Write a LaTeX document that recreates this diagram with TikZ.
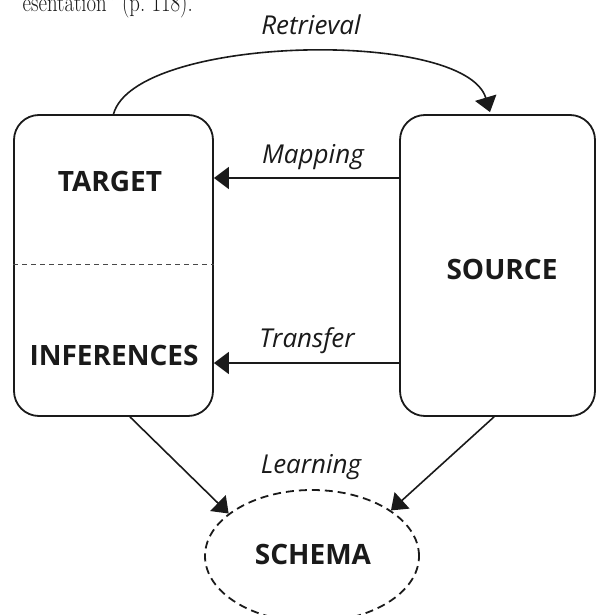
\documentclass[tikz,border=0pt]{standalone}
\usepackage{fontspec}
\setsansfont{Open Sans}
\usetikzlibrary{arrows.meta,shapes.geometric}
\definecolor{ink}{HTML}{1A1A1A}
\tikzset{
  box/.style={draw=ink, line width=1.8pt, rounded corners=25pt, minimum height=301pt},
  boxlabel/.style={font=\sffamily\bfseries\fontsize{28}{30}\selectfont, text=ink, inner sep=0pt},
  arrlabel/.style={font=\sffamily\itshape\fontsize{26}{28}\selectfont, text=ink, inner sep=0pt, anchor=base},
  arr/.style={draw=ink, line width=1.6pt, -{Triangle[length=15pt,width=22pt]}},
  divider/.style={draw=ink!80, line width=0.8pt, dash pattern=on 5pt off 4pt},
  schemabox/.style={ellipse, draw=ink, line width=1.8pt, dash pattern=on 8pt off 5pt, minimum width=214pt, minimum height=132pt, inner sep=0pt}
}
\begin{document}
\begin{tikzpicture}[x=1pt,y=-1pt]
\useasboundingbox (0,0) rectangle (597,615);
\clip (0,0) rectangle (597,615);
% cropped caption fragment
\node[anchor=base east, inner sep=0pt, text=ink] (cap) at (193,12) {\scalebox{0.8}[1]{\fontsize{26}{28}\selectfont esentation'' (p.~118).}};
% boxes
\node[box, minimum width=199pt] (target) at (113.5,265.5) {};
\node[box, minimum width=195pt] (source) at (497.5,265.5) {};
\node[schemabox] (schema) at (312,556) {};
% box texts
\node[boxlabel] (ttarget) at (110,181) {TARGET};
\node[boxlabel] (tinf) at (114,355) {INFERENCES};
\node[boxlabel] (tsource) at (502,269) {SOURCE};
\node[boxlabel] (tschema) at (313,554) {SCHEMA};
% divider
\coordinate (dv) at (300,264);
\draw[divider] (target.west |- dv) -- (target.east |- dv);
% connectors
\coordinate (my) at (300,178);
\coordinate (ty) at (300,363);
\draw[arr] (source.west |- my) -- (target.east |- my);
\draw[arr] (source.west |- ty) -- (target.east |- ty);
\draw[arr] (target.north) .. controls (135,35) and (465,28) .. ([xshift=-7.5pt,yshift=2pt]source.north);
\draw[arr] ([xshift=16.5pt]target.south) -- (schema.153);
\draw[arr] ([xshift=-3.5pt]source.south) -- (schema.30);
% labels
\node[arrlabel] (lret) at (311,35) {Retrieval};
\node[arrlabel] (lmap) at (313,163) {Mapping};
\node[arrlabel] (ltra) at (307,347) {Transfer};
\node[arrlabel] (llea) at (311,473) {Learning};
\end{tikzpicture}
\end{document}
